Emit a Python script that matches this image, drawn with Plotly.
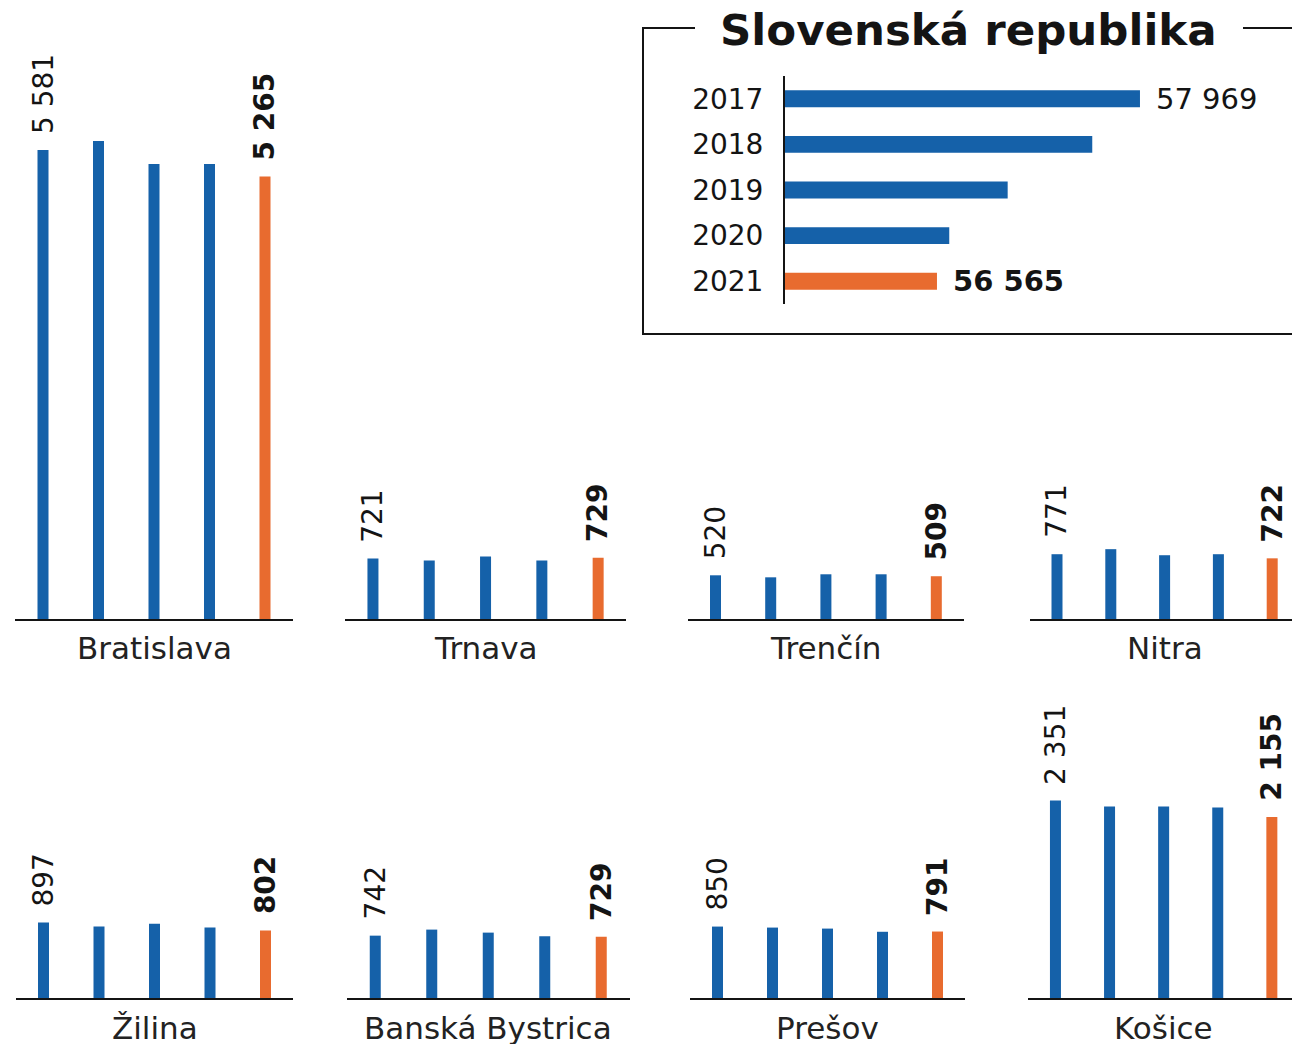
import plotly.graph_objects as go

W, H = 1292, 1044


def px(x):
    return x / W


def py(y):
    return 1 - y / H


# ---------------- data ----------------
years = ["2017", "2018", "2019", "2020", "2021"]
regions = ["Bratislava", "Trnava", "Trenčín", "Nitra",
           "Žilina", "Banská Bystrica", "Prešov", "Košice"]
bratislava = [5581, 5688, 5414, 5414, 5265]
trnava = [721, 697, 745, 697, 729]
trencin = [520, 496, 532, 532, 509]
nitra = [771, 831, 759, 771, 722]
zilina = [897, 850, 885, 839, 802]
banska_bystrica = [742, 814, 778, 735, 729]
presov = [850, 838, 826, 788, 791]
kosice = [2351, 2280, 2280, 2268, 2155]
slovensko = [57969, 57639, 57054, 56650, 56565]
inset_title = "Slovenská republika"

region_values = [bratislava, trnava, trencin, nitra,
                 zilina, banska_bystrica, presov, kosice]

# ---------------- style ----------------
BLUE = "#1561a9"
ORANGE = "#e86b2f"
INK = "#141414"
FONT = "DejaVu Sans"
colors = [BLUE, BLUE, BLUE, BLUE, ORANGE]


def fmt(v):
    return f"{v:,}".replace(",", " ")


# panel geometry in px: left edge, bar spacing, baseline, top, name y
panels = [
    (15.25, 55.5, 619, 60, 648),
    (344.8, 56.3, 619, 60, 648),
    (687.9, 55.2, 619, 60, 648),
    (1030.1, 53.8, 619, 60, 648),
    (15.75, 55.5, 998, 690, 1028),
    (347.0, 56.5, 998, 690, 1028),
    (690.0, 55.0, 998, 690, 1028),
    (1028.4, 54.1, 998, 690, 1028),
]
UPP = 11.9  # data units per pixel
BAR_PX = 11

fig = go.Figure()
layout = dict(
    width=W, height=H, margin=dict(l=0, r=0, t=0, b=0),
    paper_bgcolor="white", plot_bgcolor="white", showlegend=False,
    font=dict(family=FONT, color=INK),
)
annotations = []
shapes = []

for i, (name, vals) in enumerate(zip(regions, region_values)):
    n = i + 1
    left, sp, base, top, ly = panels[i]
    right = min(left + 5 * sp, W)
    xk = "xaxis" if n == 1 else f"xaxis{n}"
    yk = "yaxis" if n == 1 else f"yaxis{n}"
    xr = "x" if n == 1 else f"x{n}"
    yr = "y" if n == 1 else f"y{n}"
    fig.add_trace(go.Bar(
        x=list(range(len(years))), y=vals, width=BAR_PX / sp,
        marker=dict(color=colors, line=dict(width=0)),
        xaxis=xr, yaxis=yr, hoverinfo="skip",
    ))
    layout[xk] = dict(
        domain=[px(left), px(right)], range=[-0.5, -0.5 + (right - left) / sp],
        anchor=yr, showline=True, linecolor=INK, linewidth=2,
        showticklabels=False, ticks="", showgrid=False, zeroline=False,
        fixedrange=True,
    )
    layout[yk] = dict(
        domain=[py(base), py(top)], range=[0, (base - top) * UPP],
        anchor=xr, visible=False, fixedrange=True,
    )
    # value labels on first and last bar
    annotations.append(dict(
        x=0, y=vals[0], xref=xr, yref=yr, text=fmt(vals[0]), textangle=-90,
        xanchor="center", yanchor="bottom", yshift=14, showarrow=False,
        font=dict(size=28, family=FONT, color=INK),
    ))
    annotations.append(dict(
        x=4, y=vals[4], xref=xr, yref=yr, text="<b>" + fmt(vals[4]) + "</b>",
        textangle=-90, xanchor="center", yanchor="bottom", yshift=14,
        showarrow=False, font=dict(size=28, family=FONT, color=INK),
    ))
    # region name
    cx = left + 2.5 * sp
    annotations.append(dict(
        x=px(cx), y=py(ly), xref="paper", yref="paper", text=name,
        xanchor="center", yanchor="middle", showarrow=False,
        font=dict(size=31, family=FONT, color="#222222"),
    ))

# ---------------- inset: Slovenská republika ----------------
x0_px, x1_px = 785, W
y0_px, y1_px = 76, 304
VAL_AT_AXIS = 55514
UPP_H = 6.916
fig.add_trace(go.Bar(
    x=slovensko, y=years, orientation="h", width=0.37,
    marker=dict(color=colors, line=dict(width=0)),
    xaxis="x9", yaxis="y9", hoverinfo="skip",
))
layout["xaxis9"] = dict(
    domain=[px(x0_px), px(x1_px)],
    range=[VAL_AT_AXIS, VAL_AT_AXIS + (x1_px - x0_px) * UPP_H],
    anchor="y9", visible=False, fixedrange=True,
)
layout["yaxis9"] = dict(
    domain=[py(y1_px), py(y0_px)], type="category", range=[4.5, -0.5],
    categoryorder="array", categoryarray=years,
    anchor="x9", showline=True, linecolor=INK, linewidth=2, ticks="",
    showgrid=False, zeroline=False, ticklabelstandoff=14,
    tickfont=dict(size=28, family=FONT, color=INK), fixedrange=True,
)
annotations.append(dict(
    x=slovensko[0], y=0, xref="x9", yref="y9", text=fmt(slovensko[0]),
    xanchor="left", yanchor="middle", xshift=14, showarrow=False,
    font=dict(size=29, family=FONT, color=INK),
))
annotations.append(dict(
    x=slovensko[4], y=4, xref="x9", yref="y9",
    text="<b>" + fmt(slovensko[4]) + "</b>",
    xanchor="left", yanchor="middle", xshift=14, showarrow=False,
    font=dict(size=29, family=FONT, color=INK),
))
annotations.append(dict(
    x=px(968), y=py(30), xref="paper", yref="paper",
    text="<b>" + inset_title + "</b>", xanchor="center", yanchor="middle",
    showarrow=False, font=dict(size=43.5, family=FONT, color=INK),
))

line = dict(color=INK, width=2)
for (xa, ya, xb, yb) in [(643, 28, 643, 334), (642, 28, 695, 28),
                         (1243, 28, 1292, 28), (642, 334, 1292, 334)]:
    shapes.append(dict(type="line", xref="paper", yref="paper",
                       x0=px(xa), y0=py(ya), x1=px(xb), y1=py(yb), line=line))

layout["annotations"] = annotations
layout["shapes"] = shapes
fig.update_layout(**layout)
fig.write_html(
    "out.html",
    config={"displayModeBar": False},
    post_script="document.body.style.margin='0';"
                "document.body.style.overflow='hidden';",
)
